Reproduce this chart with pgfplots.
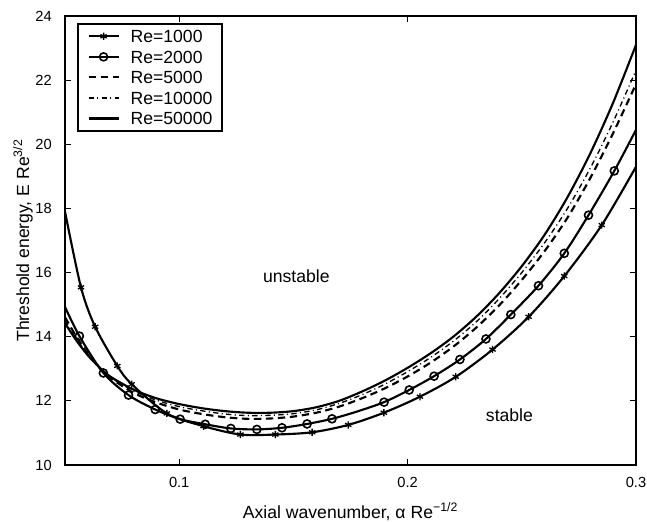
\documentclass[border=0pt]{standalone}
\usepackage{fontspec}
\setmainfont{Liberation Sans}
\usepackage{pgfplots}
\usepackage{pgfplotstable}
\pgfplotsset{compat=1.18}

\pgfplotstableread{
x y
0.05 17.9
0.057 15.54
0.0632 14.31
0.0729 13.09
0.0792 12.52
0.0946 11.61
0.1107 11.21
0.1268 10.95
0.1421 10.95
0.1582 11.02
0.174 11.25
0.1896 11.63
0.2054 12.13
0.2211 12.75
0.2372 13.6
0.253 14.62
0.2686 15.89
0.285 17.48
0.3 19.3
}\reA
\pgfplotstableread{
x y
0.057 15.54
0.0632 14.31
0.0729 13.09
0.0792 12.52
0.0946 11.61
0.1107 11.21
0.1268 10.95
0.1421 10.95
0.1582 11.02
0.174 11.25
0.1896 11.63
0.2054 12.13
0.2211 12.75
0.2372 13.6
0.253 14.62
0.2686 15.89
0.285 17.48
}\reAm
\pgfplotstableread{
x y
0.05 14.93
0.0563 14.02
0.0668 12.87
0.0778 12.18
0.0895 11.73
0.1004 11.43
0.1114 11.27
0.1226 11.14
0.134 11.11
0.145 11.16
0.156 11.28
0.1669 11.44
0.178 11.67
0.1897 11.96
0.2007 12.34
0.2116 12.77
0.2229 13.29
0.2343 13.93
0.2452 14.69
0.2573 15.59
0.2686 16.6
0.2792 17.79
0.2905 19.17
0.3 20.45
}\reB
\pgfplotstableread{
x y
0.0563 14.02
0.0668 12.87
0.0778 12.18
0.0895 11.73
0.1004 11.43
0.1114 11.27
0.1226 11.14
0.134 11.11
0.145 11.16
0.156 11.28
0.1669 11.44
0.1897 11.96
0.2007 12.34
0.2116 12.77
0.2229 13.29
0.2343 13.93
0.2452 14.69
0.2573 15.59
0.2686 16.6
0.2792 17.79
0.2905 19.17
}\reBm
\pgfplotstableread{
x y
0.05 14.61
0.055 14.00
0.06 13.48
0.065 13.04
0.07 12.71
0.08 12.25
0.09 11.95
0.10 11.73
0.11 11.59
0.12 11.49
0.13 11.44
0.14 11.45
0.15 11.51
0.16 11.63
0.17 11.82
0.18 12.08
0.19 12.39
0.20 12.76
0.21 13.19
0.22 13.69
0.23 14.28
0.24 14.97
0.25 15.77
0.26 16.67
0.27 17.71
0.28 18.95
0.29 20.35
0.30 21.88
}\reC
\pgfplotstableread{
x y
0.05 14.51
0.055 13.94
0.06 13.45
0.065 13.05
0.07 12.73
0.08 12.31
0.09 12.02
0.10 11.82
0.11 11.69
0.12 11.59
0.13 11.54
0.14 11.55
0.15 11.60
0.16 11.72
0.17 11.92
0.18 12.19
0.19 12.52
0.20 12.91
0.21 13.35
0.22 13.86
0.23 14.46
0.24 15.18
0.25 16.00
0.26 16.93
0.27 18.00
0.28 19.26
0.29 20.70
0.30 22.31
}\reD
\pgfplotstableread{
x y
0.05 14.42
0.055 13.88
0.06 13.42
0.065 13.05
0.07 12.75
0.08 12.35
0.09 12.08
0.10 11.90
0.11 11.77
0.12 11.68
0.13 11.63
0.14 11.63
0.15 11.68
0.16 11.80
0.17 12.00
0.18 12.29
0.19 12.63
0.20 13.03
0.21 13.48
0.22 14.00
0.23 14.62
0.24 15.35
0.25 16.20
0.26 17.18
0.27 18.35
0.28 19.72
0.29 21.30
0.30 23.10
}\reE

\begin{document}
\begin{tikzpicture}
\begin{axis}[
  name=ax,
  scale only axis, width=428.25bp, height=336.75bp,
  xmin=0.05, xmax=0.3, ymin=10, ymax=24,
  xtick={0.1,0.2,0.3}, xticklabels={0.1,0.2,0.3},
  ytick={10,12,14,16,18,20,22,24},
  tick align=inside, major tick length=4.5bp,
  every tick/.style={black, line width=0.9bp},
  axis line style={line width=1.2bp},
  /pgf/number format/assume math mode=true,
  tick label style={font=\fontsize{11bp}{13bp}\selectfont},
  x tick label style={inner sep=0pt, anchor=north, yshift=-9bp},
  y tick label style={inner sep=0pt, anchor=east, xshift=-9.75bp},
  xlabel={Axial wavenumber, α Re\textsuperscript{−1/2}},
  xlabel style={at={(axis description cs:0.5,-0.1191)}, anchor=base, inner sep=0pt, font=\fontsize{13.2bp}{15bp}\selectfont},
  ylabel={Threshold energy, E Re\textsuperscript{3/2}},
  ylabel style={at={(axis description cs:-0.0630,0.5)}, anchor=base, inner sep=0pt, font=\fontsize{13.2bp}{15bp}\selectfont},
  legend cell align=left,
  legend style={at={(axis description cs:0.021,0.984)}, anchor=north west,
    draw=black, line width=1.2bp, inner xsep=7.3bp, inner ysep=4.5bp,
    font=\fontsize{13.2bp}{15bp}\selectfont, row sep=5.9bp,
    nodes={inner sep=0pt, text height=9.5bp, text depth=0pt, anchor=west},
    /tikz/every odd column/.append style={column sep=8.25bp}},
  legend image code/.code={\draw[mark repeat=2,mark phase=2,#1] plot coordinates {(0bp,0bp)(11.25bp,0bp)(22.5bp,0bp)};},
]
\addlegendimage{black, line width=1.6bp, mark=asterisk, mark size=2.7bp, mark options={solid, line width=1bp}}
\addlegendentry{Re=1000}
\addlegendimage{black, line width=1.6bp, mark=o, mark size=3bp, mark options={solid, line width=1.2bp}}
\addlegendentry{Re=2000}
\addlegendimage{black, line width=1.6bp, dash pattern=on 5.5bp off 3.5bp}
\addlegendentry{Re=5000}
\addlegendimage{black, line width=1.0bp, dash pattern=on 4bp off 2.5bp on 0.8bp off 2.5bp}
\addlegendentry{Re=10000}
\addlegendimage{black, line width=1.6bp}
\addlegendentry{Re=50000}

\addplot[black, line width=1.6bp, smooth, forget plot] table[x=x,y=y] {\reA};
\addplot[black, only marks, mark=asterisk, mark size=2.7bp, mark options={solid, line width=1bp}, forget plot] table[x=x,y=y] {\reAm};
\addplot[black, line width=1.6bp, smooth, forget plot] table[x=x,y=y] {\reB};
\addplot[black, only marks, mark=o, mark size=3bp, mark options={solid, line width=1.2bp}, forget plot] table[x=x,y=y] {\reBm};
\addplot[black, line width=1.6bp, smooth, dash pattern=on 5.5bp off 3.5bp, forget plot] table[x=x,y=y] {\reC};
\addplot[black, line width=1.0bp, smooth, dash pattern=on 4bp off 2.5bp on 0.8bp off 2.5bp, forget plot] table[x=x,y=y] {\reD};
\addplot[black, line width=1.6bp, smooth, forget plot] table[x=x,y=y] {\reE};

\node[anchor=base west, inner sep=0pt, font=\fontsize{13.2bp}{15bp}\selectfont] at (axis cs:0.1366,15.70) {unstable};
\node[anchor=base west, inner sep=0pt, font=\fontsize{13.2bp}{15bp}\selectfont] at (axis cs:0.2342,11.35) {stable};
\end{axis}
\path ([xshift=-48.75bp,yshift=-42.75bp]ax.south west) rectangle ([xshift=8.25bp,yshift=12bp]ax.north east);
\end{tikzpicture}
\end{document}
